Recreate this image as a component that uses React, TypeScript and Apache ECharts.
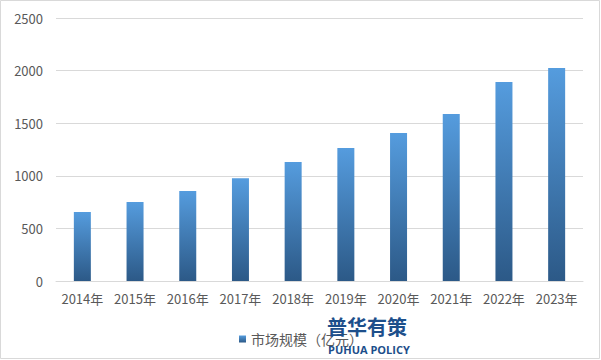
import React, { useEffect, useRef } from "react";
import * as echarts from "echarts";

const categories = ["2014年", "2015年", "2016年", "2017年", "2018年", "2019年", "2020年", "2021年", "2022年", "2023年"];
const marketSize = [656, 751, 855, 976, 1131, 1264, 1407, 1587, 1892, 2025];
const seriesName = "市场规模（亿元）";
const yTicks = { min: 0, max: 2500, interval: 500 };

export default function App() {
  const ref = useRef<HTMLDivElement>(null);
  useEffect(() => {
    if (!ref.current) return;
    const chart = echarts.init(ref.current, undefined, { renderer: "svg" });
    const font = "'Microsoft YaHei', 'Noto Sans CJK SC', 'DejaVu Sans', sans-serif";
    chart.setOption({
      animation: false,
      backgroundColor: "#ffffff",
      grid: { left: 56, right: 18, top: 18, bottom: 79, containLabel: false },
      xAxis: {
        type: "category",
        data: categories,
        axisLine: { lineStyle: { color: "#d9d9d9" } },
        axisTick: { show: false },
        axisLabel: { color: "#595959", fontSize: 13, margin: 11, interval: 0, fontFamily: font },
      },
      yAxis: {
        type: "value",
        min: yTicks.min,
        max: yTicks.max,
        interval: yTicks.interval,
        axisLine: { show: false },
        axisTick: { show: false },
        splitLine: { lineStyle: { color: "#d9d9d9" } },
        axisLabel: {
          color: "#595959",
          fontSize: 13,
          margin: 13,
          fontFamily: font,
          formatter: (v: number) => String(v),
        },
      },
      legend: {
        data: [seriesName],
        left: 234,
        top: 327,
        icon: "rect",
        itemWidth: 7,
        itemHeight: 7,
        itemGap: 5,
        textStyle: { color: "#595959", fontSize: 14, fontFamily: font },
      },
      series: [
        {
          name: seriesName,
          type: "bar",
          data: marketSize,
          barWidth: 17,
          itemStyle: {
            color: new echarts.graphic.LinearGradient(0, 0, 0, 1, [
              { offset: 0, color: "#559cde" },
              { offset: 1, color: "#2c5987" },
            ]),
          },
        },
      ],
      graphic: [
        {
          type: "rect",
          shape: { x: 0.5, y: 0.5, width: 599, height: 358 },
          style: { fill: "none", stroke: "#d9d9d9", lineWidth: 1 },
          silent: true,
        },
        {
          type: "text",
          left: 327,
          top: 316,
          z: 100,
          style: {
            text: "普华有策",
            fill: "#1d4f8b",
            fontSize: 20,
            lineHeight: 20,
            fontWeight: "bold",
            fontFamily: "'Noto Sans CJK SC', sans-serif",
          },
        },
        {
          type: "text",
          left: 328,
          top: 344,
          z: 100,
          style: {
            text: "PUHUA POLICY",
            fill: "#1d4f8b",
            fontSize: 11,
            lineHeight: 11,
            fontWeight: "bold",
            fontFamily: "'Open Sans', 'DejaVu Sans', sans-serif",
          },
        },
      ],
    });
    return () => chart.dispose();
  }, []);
  return <div ref={ref} style={{ position: "fixed", left: 0, top: 0, width: 601, height: 360 }} />;
}
